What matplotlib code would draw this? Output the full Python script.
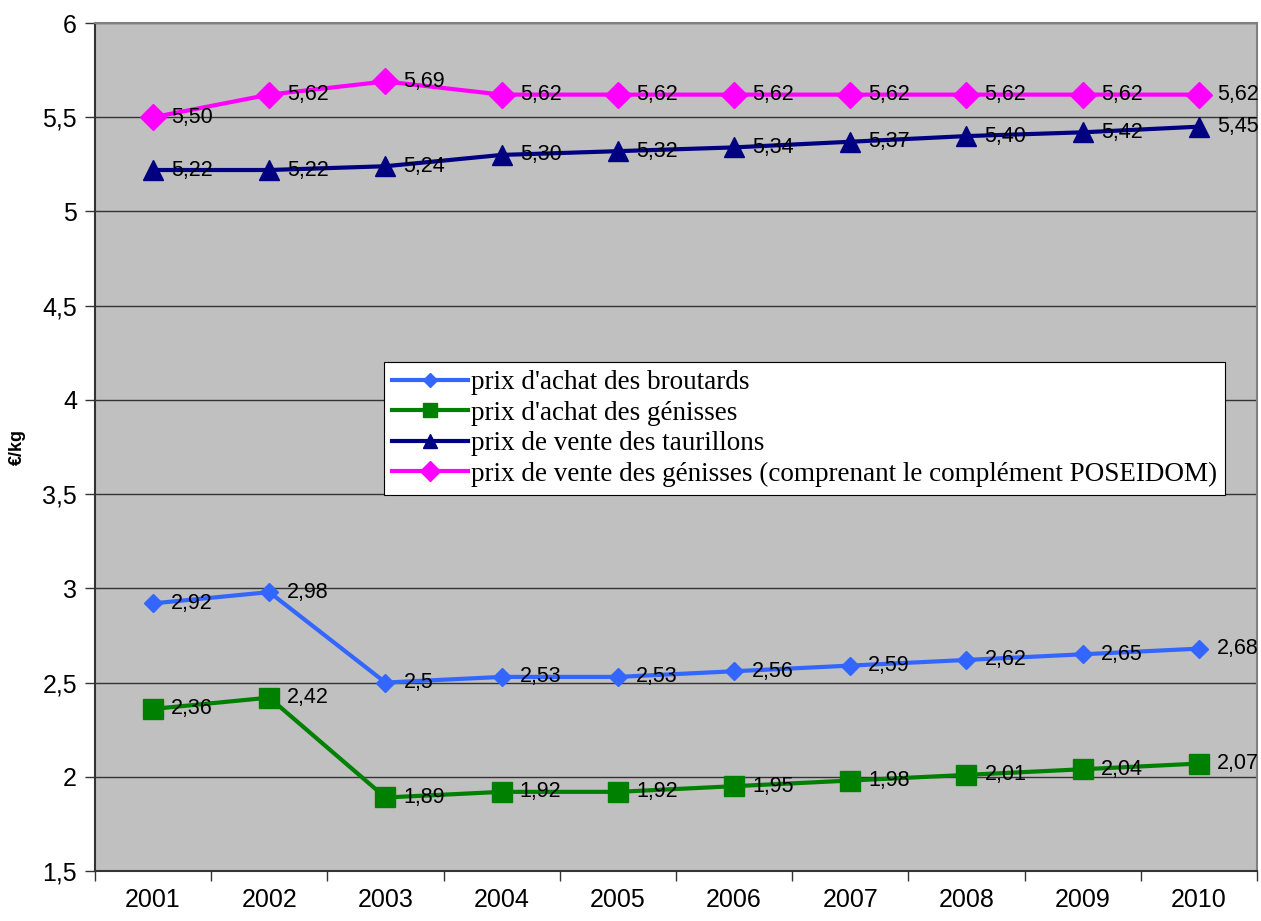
import matplotlib.pyplot as plt

years = ["2001", "2002", "2003", "2004", "2005", "2006", "2007", "2008", "2009", "2010"]

broutards = [2.92, 2.98, 2.50, 2.53, 2.53, 2.56, 2.59, 2.62, 2.65, 2.68]
broutards_lbl = ["2,92", "2,98", "2,5", "2,53", "2,53", "2,56", "2,59", "2,62", "2,65", "2,68"]

genisses_achat = [2.36, 2.42, 1.89, 1.92, 1.92, 1.95, 1.98, 2.01, 2.04, 2.07]
genisses_achat_lbl = ["2,36", "2,42", "1,89", "1,92", "1,92", "1,95", "1,98", "2,01", "2,04", "2,07"]

taurillons = [5.22, 5.22, 5.24, 5.30, 5.32, 5.34, 5.37, 5.40, 5.42, 5.45]
taurillons_lbl = ["5,22", "5,22", "5,24", "5,30", "5,32", "5,34", "5,37", "5,40", "5,42", "5,45"]

genisses_vente = [5.50, 5.62, 5.69, 5.62, 5.62, 5.62, 5.62, 5.62, 5.62, 5.62]
genisses_vente_lbl = ["5,50", "5,62", "5,69", "5,62", "5,62", "5,62", "5,62", "5,62", "5,62", "5,62"]

y_ticks = [1.5, 2, 2.5, 3, 3.5, 4, 4.5, 5, 5.5, 6]
y_tick_lbl = ["1,5", "2", "2,5", "3", "3,5", "4", "4,5", "5", "5,5", "6"]

plt.rcParams['font.family'] = ['Liberation Sans', 'DejaVu Sans']

fig = plt.figure(figsize=(12.61, 9.21), dpi=100)
ax = fig.add_axes([0.0753, 0.0543, 0.9215, 0.9207])
ax.set_facecolor('#C0C0C0')

x = list(range(len(years)))

series = [
    (broutards, broutards_lbl, "prix d'achat des broutards", '#3366FF', 'D', 9),
    (genisses_achat, genisses_achat_lbl, "prix d'achat des génisses", '#008000', 's', 14),
    (taurillons, taurillons_lbl, "prix de vente des taurillons", '#000080', '^', 14),
    (genisses_vente, genisses_vente_lbl,
     "prix de vente des génisses (comprenant le complément POSEIDOM)", '#FF00FF', 'D', 13),
]

for vals, lbls, name, col, mk, ms in series:
    ax.plot(x, vals, color=col, lw=3, marker=mk, markersize=ms, label=name, zorder=3)
    for xi, v, t in zip(x, vals, lbls):
        ax.annotate(t, (xi, v), xytext=(13, 0), textcoords='offset points',
                    ha='left', va='center', fontsize=15.5, zorder=4)

ax.set_xlim(-0.5, len(years) - 0.5)
ax.set_ylim(1.5, 6)
ax.set_yticks(y_ticks)
ax.set_yticklabels(y_tick_lbl, fontsize=18)
ax.set_xticks(x)
ax.set_xticklabels(years, fontsize=18)
ax.set_xticks([i - 0.5 for i in range(len(years) + 1)], minor=True)
ax.tick_params(axis='x', which='major', length=0, pad=12)
ax.tick_params(axis='x', which='minor', length=7, width=1, color='#333333')
ax.tick_params(axis='y', length=7, width=1, color='#333333', pad=6)

ax.grid(axis='y', color='#333333', lw=1)
ax.set_axisbelow(True)
for s in ['left', 'bottom']:
    ax.spines[s].set_color('#333333')
    ax.spines[s].set_linewidth(1.5)
for s in ['top', 'right']:
    ax.spines[s].set_color('#808080')
    ax.spines[s].set_linewidth(1.5)

ax.set_ylabel('€/kg', fontsize=13, fontweight='bold', labelpad=12)

leg = ax.legend(loc='upper left', bbox_to_anchor=(0.249, 0.6), borderaxespad=0,
                fancybox=False, frameon=True, framealpha=1, edgecolor='black',
                handlelength=2.8, handletextpad=0.1, borderpad=0.3, labelspacing=0.2,
                markerscale=0.75, prop={'family': 'Liberation Serif', 'size': 19.5})
leg.get_frame().set_linewidth(0.8)

plt.savefig('out.png', dpi=100)
